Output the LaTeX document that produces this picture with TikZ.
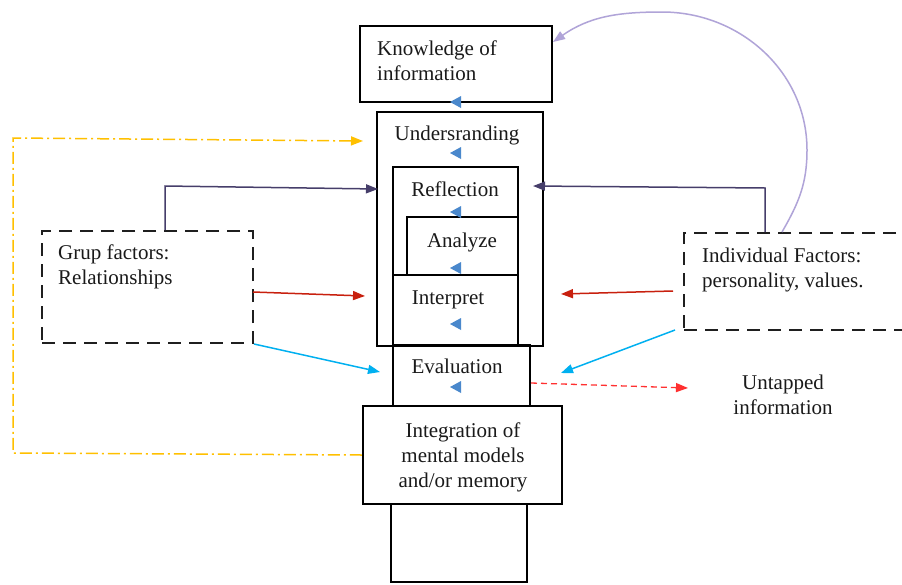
\documentclass[tikz,border=0pt]{standalone}
\usepackage{fontspec}
\setmainfont{Liberation Serif}
\usetikzlibrary{arrows.meta,calc}
\definecolor{txt}{HTML}{1A1A1A}
\definecolor{yel}{HTML}{FFC000}
\definecolor{dpur}{HTML}{463E6A}
\definecolor{redA}{HTML}{C8200E}
\definecolor{cya}{HTML}{00B0F0}
\definecolor{lav}{HTML}{B0A4D8}
\definecolor{redD}{HTML}{FF3030}
\definecolor{bluT}{HTML}{4A88CC}
\newcommand\Lstk[1]{\vtop{\baselineskip=25pt\halign{##\hfil\cr#1\crcr}}}
\newcommand\Cstk[1]{\vtop{\baselineskip=25pt\halign{\hfil##\hfil\cr#1\crcr}}}
\tikzset{
  boxs/.style={draw=black, line width=2.5pt, inner sep=0pt},
  dbox/.style={draw=black!88, line width=2pt, dash pattern=on 13pt off 8pt, inner sep=0pt},
  lbl/.style={inner sep=0pt, text=txt, font=\fontsize{21}{25}\selectfont},
  tip/.style={-{Triangle[length=12pt,width=9pt]}},
  tri/.style={fill=bluT}
}
\begin{document}
\begin{tikzpicture}[x=1pt,y=-1pt]
\clip (0,0) rectangle (902,584);
\fill[white] (0,0) rectangle (902,584);
% boxes
\node[boxs, minimum width=192pt, minimum height=76pt] (know) at (456,64) {};
\node[boxs, minimum width=166pt, minimum height=234pt] (under) at (460,229) {};
\node[boxs, minimum width=125pt, minimum height=108pt] (refl) at (455.5,221) {};
\node[boxs, minimum width=111pt, minimum height=58pt] (anal) at (462.5,246) {};
\node[boxs, minimum width=125pt, minimum height=70pt] (interp) at (455.5,310) {};
\node[boxs, minimum width=137pt, minimum height=61pt] (evalb) at (461.5,375.5) {};
\node[boxs, minimum width=199pt, minimum height=98pt] (integ) at (462.5,455) {};
\node[boxs, minimum width=136pt, minimum height=78pt] (bottom) at (459,543) {};
\node[dbox, minimum width=211pt, minimum height=112pt] (grup) at (147.5,287) {};
\node[dbox, minimum width=236pt, minimum height=97pt] (indiv) at (802,281.5) {};
% texts
\node[lbl, anchor=base west] (tknow) at (377,55) {\Lstk{Knowledge of\cr information}};
\node[lbl, anchor=base] (tunder) at (457,140) {Undersranding};
\node[lbl, anchor=base] (trefl) at (455,196) {Reflection};
\node[lbl, anchor=base] (tanal) at (462,247) {Analyze};
\node[lbl, anchor=base] (tinterp) at (448,304) {Interpret};
\node[lbl, anchor=base] (teval) at (457,373) {Evaluation};
\node[lbl, anchor=base] (tinteg) at (463,437) {\Cstk{Integration of\cr mental models\cr and/or memory}};
\node[lbl, anchor=base west] (tgrup) at (58,259) {\Lstk{Grup factors:\cr Relationships}};
\node[lbl, anchor=base west] (tindiv) at (702,262) {\Lstk{Individual Factors:\cr personality, values.}};
\node[lbl, anchor=base] (tuntap) at (783,389) {\Cstk{Untapped\cr information}};
% blue triangles
\foreach \yy in {102,153,212,268,324,387}{
  \fill[tri] (450,\yy) -- (461,\yy-6) -- (461,\yy+6) -- cycle;
}
% coordinates for free ends
\coordinate (ytop) at (363,141);
\coordinate (gpv) at (165,186);
\coordinate (gptip) at (378,189);
\coordinate (gredS) at (253,292);
\coordinate (gredT) at (365,296);
\coordinate (gcyaT) at (380,372);
\coordinate (ipv) at (765,188);
\coordinate (iptip) at (533,186);
\coordinate (iredS) at (673,291);
\coordinate (iredT) at (561,294);
\coordinate (icyaS) at (675,330);
\coordinate (icyaT) at (561,373);
\coordinate (evS) at (531,383);
\coordinate (evT) at (688,388);
\coordinate (lavS) at (782,232);
\coordinate (lavT) at (553,42);
% yellow feedback
\draw[yel, line width=1.5pt, dash pattern=on 12pt off 4pt on 2pt off 4pt, tip]
  (integ.west) -- (13,453) -- (13,138) -- (ytop);
% purple
\draw[dpur, line width=1.5pt, tip] (grup.north -| gpv) -- (gpv) -- (gptip);
\draw[dpur, line width=1.5pt, tip] (indiv.north -| ipv) -- (ipv) -- (iptip);
% red
\draw[redA, line width=1.5pt, tip] (gredS) -- (gredT);
\draw[redA, line width=1.5pt, tip] (iredS) -- (iredT);
% cyan
\draw[cya, line width=1.5pt, tip] (grup.south east) -- (gcyaT);
\draw[cya, line width=1.5pt, tip] (icyaS) -- (icyaT);
% red dashed
\draw[redD, line width=1.3pt, dash pattern=on 6pt off 4pt, tip] (evS) -- (evT);
% lavender arc
\draw[lav, line width=1.5pt, tip] (lavS) to[out=60,in=-90] (807,150) to[out=90,in=0] (662,12) to[out=180,in=35] (lavT);
\end{tikzpicture}
\end{document}
